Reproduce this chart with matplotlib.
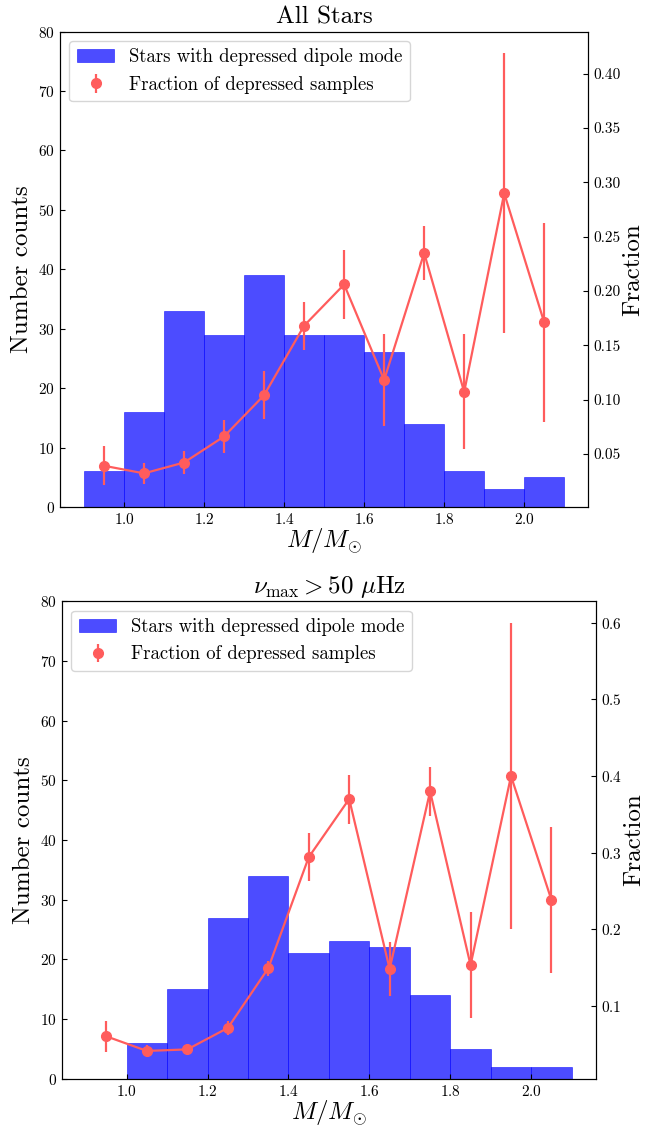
import matplotlib
matplotlib.use('Agg')
import matplotlib.pyplot as plt
import numpy as np

plt.rcParams['font.family'] = 'serif'
plt.rcParams['font.serif'] = ['cmr10']
plt.rcParams['mathtext.fontset'] = 'cm'
plt.rcParams['axes.unicode_minus'] = False
plt.rcParams['axes.formatter.use_mathtext'] = True

# histogram bins (mass, solar units)
bin_edges = [0.9, 1.0, 1.1, 1.2, 1.3, 1.4, 1.5, 1.6, 1.7, 1.8, 1.9, 2.0, 2.1]
bin_centers = [0.95, 1.05, 1.15, 1.25, 1.35, 1.45, 1.55, 1.65, 1.75, 1.85, 1.95, 2.05]

# panel 1: all stars
counts_all = [6, 16, 33, 29, 39, 29, 29, 26, 14, 6, 3, 5]
frac_all = [0.039, 0.032, 0.042, 0.066, 0.104, 0.168, 0.206, 0.118, 0.235, 0.107, 0.290, 0.171]
frac_err_all = [0.018, 0.010, 0.011, 0.015, 0.022, 0.022, 0.032, 0.042, 0.025, 0.053, 0.129, 0.092]

# panel 2: numax > 50 muHz
counts_hi = [0, 6, 15, 27, 34, 21, 23, 22, 14, 5, 2, 2]
frac_hi = [0.060, 0.041, 0.043, 0.071, 0.149, 0.294, 0.370, 0.148, 0.380, 0.153, 0.400, 0.238]
frac_err_hi = [0.020, 0.008, 0.005, 0.009, 0.010, 0.031, 0.032, 0.035, 0.032, 0.069, 0.200, 0.095]

titles = ['All Stars', r'$\nu_{\rm max} > 50\ \mu{\rm Hz}$']
panels = [(counts_all, frac_all, frac_err_all), (counts_hi, frac_hi, frac_err_hi)]
positions = [[0.093, 0.551, 0.819, 0.421], [0.096, 0.0445, 0.828, 0.423]]
red = '#ff5c5c'

fig = plt.figure(figsize=(6.45, 11.29), dpi=100)

for i, (counts, frac, err) in enumerate(panels):
    ax = fig.add_axes(positions[i])
    ax.hist(bin_centers, bins=bin_edges, weights=counts, color='blue', alpha=0.7,
            edgecolor='blue', linewidth=0.5, label='Stars with depressed dipole mode')
    ax.set_ylim(0, 80)
    ax.set_xticks([1.0, 1.2, 1.4, 1.6, 1.8, 2.0])
    ax.set_xlabel(r'$M/M_{\odot}$', fontsize=18, labelpad=0)
    ax.set_ylabel('Number counts', fontsize=18)
    ax.set_title(titles[i], fontsize=18)
    ax.tick_params(direction='in', labelsize=11)

    ax2 = ax.twinx()
    ax2.plot(bin_centers, frac, color=red, linewidth=1.6)
    ax2.errorbar(bin_centers, frac, yerr=err, fmt='o', color=red, markersize=7,
                 elinewidth=1.6, label='Fraction of depressed samples')
    ax2.set_ylabel('Fraction', fontsize=18, labelpad=1)
    ax2.tick_params(direction='in', labelsize=11)
    if i == 0:
        ax2.set_yticks([0.05, 0.10, 0.15, 0.20, 0.25, 0.30, 0.35, 0.40])
        ax2.set_yticklabels(['0.05', '0.10', '0.15', '0.20', '0.25', '0.30', '0.35', '0.40'])

    h1, l1 = ax.get_legend_handles_labels()
    h2, l2 = ax2.get_legend_handles_labels()
    ax2.legend(h1 + h2, l1 + l2, loc='upper left', fontsize=13.5)

fig.savefig('out.png', dpi=100)
